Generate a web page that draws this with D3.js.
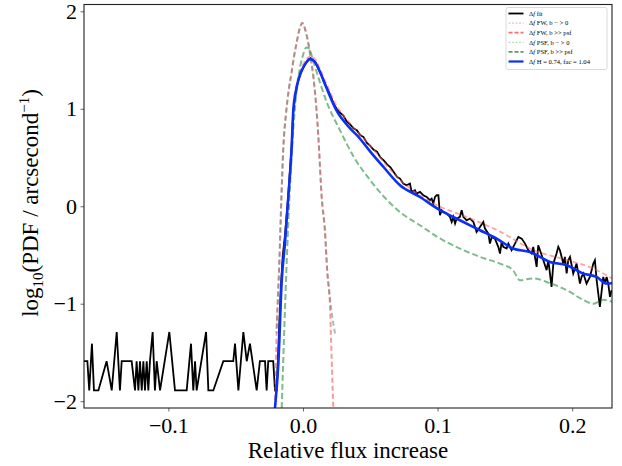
<!DOCTYPE html>
<html><head><meta charset="utf-8">
<script src="https://cdn.jsdelivr.net/npm/d3@7"></script>
<style>body{margin:0;background:#fff}</style>
</head><body><svg id="c" width="622" height="466"></svg>
<script>
// ---------- data ----------
const xTicks = [-0.1, 0.0, 0.1, 0.2];
const yTicks = [-2, -1, 0, 1, 2];
const legendLabels = ["fit", "FW, b − > 0", "FW, b >> psf", "PSF, b − > 0", "PSF, b >> psf", "H = 0.74, fac = 1.04"];

// histogram of the measured Δf (black)
const fitData = [
[-0.1627,-1.59],[-0.1602,-1.59],[-0.1588,-1.89],[-0.1568,-1.41],[-0.1553,-1.89],[-0.152,-1.89],[-0.1459,-1.59],[-0.1421,-1.89],
[-0.1384,-1.29],[-0.136,-1.89],[-0.1347,-1.59],[-0.1273,-1.59],[-0.1248,-1.89],[-0.1236,-1.59],[-0.1223,-1.89],[-0.1211,-1.59],
[-0.1198,-1.89],[-0.1186,-1.59],[-0.1174,-1.89],[-0.1161,-1.59],[-0.1149,-1.89],[-0.1137,-1.59],[-0.1117,-1.29],[-0.11,-1.89],
[-0.1087,-1.59],[-0.1062,-1.89],[-0.0993,-1.29],[-0.0951,-1.89],[-0.0864,-1.89],[-0.0832,-1.41],[-0.0815,-1.89],[-0.0802,-1.59],
[-0.079,-1.89],[-0.072,-1.29],[-0.0703,-1.89],[-0.0666,-1.89],[-0.0592,-1.59],[-0.0518,-1.59],[-0.0505,-1.41],[-0.048,-1.89],
[-0.0443,-1.29],[-0.0418,-1.59],[-0.0394,-1.41],[-0.0344,-1.89],[-0.032,-1.59],[-0.0282,-1.59],[-0.027,-1.89],[-0.0258,-1.59],
[-0.0221,-1.59],[-0.0208,-1.89],[-0.0195,-1.89],[-0.018,-1.35],[-0.0165,-0.85],[-0.015,-0.5],[-0.0134,-0.3],[-0.0109,0.12],
[-0.0084,0.62],[-0.0072,0.98],[-0.0047,1.23],[-0.002,1.36],[0.001,1.44],[0.0035,1.5],[0.0055,1.52],[0.0075,1.5],[0.0095,1.47],
[0.0115,1.41],[0.0135,1.35],[0.0155,1.28],[0.0176,1.22],[0.02,1.15],[0.0225,1.06],[0.025,1.0],[0.0275,0.96],[0.03,0.93],
[0.0325,0.87],[0.035,0.84],[0.0375,0.80],[0.04,0.78],[0.0425,0.73],[0.045,0.71],[0.0475,0.65],[0.05,0.62],[0.0525,0.58],
[0.055,0.56],[0.0575,0.50],[0.06,0.47],[0.0625,0.43],[0.065,0.40],[0.0675,0.35],[0.07,0.30],
[0.0721,0.284],[0.0745,0.233],[0.077,0.215],[0.0795,0.233],[0.0807,0.147],[0.0832,0.164],[0.0844,0.130],[0.0869,0.147],
[0.0894,0.113],[0.0919,0.096],[0.0943,0.062],[0.0956,0.079],[0.0968,0.027],[0.0981,0.096],[0.0993,0.113],[0.1006,0.113],
[0.1018,-0.092],[0.103,-0.041],[0.1043,-0.058],[0.1068,-0.075],[0.1092,-0.109],[0.1105,-0.161],[0.1117,-0.109],[0.113,-0.178],
[0.1142,-0.126],[0.1166,-0.109],[0.1179,-0.041],[0.1191,-0.109],[0.1204,-0.126],[0.1216,-0.144],[0.1241,-0.126],[0.1266,-0.161],
[0.129,-0.263],[0.1315,-0.212],[0.134,-0.161],[0.1352,-0.229],[0.1377,-0.280],[0.1389,-0.383],[0.1402,-0.315],[0.1426,-0.332],
[0.1451,-0.417],[0.1464,-0.485],[0.1476,-0.366],[0.1488,-0.417],[0.1513,-0.434],[0.1526,-0.383],[0.155,-0.451],[0.1575,-0.383],
[0.16,-0.315],[0.1625,-0.332],[0.165,-0.383],[0.1674,-0.451],[0.1699,-0.485],[0.1711,-0.417],[0.1736,-0.622],[0.1748,-0.400],
[0.1761,-0.451],[0.1786,-0.554],[0.181,-0.656],[0.1823,-0.554],[0.1847,-0.827],[0.186,-0.588],[0.1884,-0.485],[0.1897,-0.417],
[0.1909,-0.451],[0.1934,-0.588],[0.1946,-0.520],[0.1959,-0.690],[0.1971,-0.554],[0.1984,-0.520],[0.2008,-0.690],[0.2033,-0.588],
[0.2058,-0.793],[0.207,-0.725],[0.2083,-0.690],[0.2107,-0.793],[0.2132,-0.725],[0.2157,-0.588],[0.2169,-0.554],[0.2182,-0.759],
[0.2206,-1.033],[0.2231,-0.725],[0.2244,-0.793],[0.2256,-0.725],[0.2268,-0.793],[0.2281,-0.930],[0.2293,-0.862]
];

// FW model, b -> 0 (narrow peak)
const fwNarrow = [
[-0.0208,-2.07],[-0.0195,-1.27],[-0.0176,-0.59],[-0.016,0.1],[-0.0146,0.6],[-0.0126,0.95],[-0.0105,1.2],[-0.0084,1.38],
[-0.0065,1.55],[-0.0047,1.68],[-0.0025,1.82],[-0.0005,1.88],[0.0015,1.82],[0.004,1.67],[0.006,1.5],[0.0077,1.33],
[0.0101,0.98],[0.0114,0.72],[0.0139,0.095],[0.0163,-0.25],[0.018,-0.66],[0.02,-1.0],[0.0207,-1.3],[0.0225,-2.07]
];
// FW model, b >> psf
const fwTail = [
[-0.0208,-2.07],[-0.0183,-1.6],[-0.0158,-0.74],[-0.0134,-0.35],[-0.0109,0.12],[-0.0084,0.64],[-0.0072,1.0],[-0.0047,1.25],
[-0.001,1.42],[0.0027,1.51],[0.0052,1.54],[0.0089,1.51],[0.0126,1.41],[0.0176,1.25],[0.025,1.03],[0.035,0.85],[0.05,0.62],
[0.0721,0.27],[0.0968,0.03],[0.1216,-0.11],[0.1464,-0.26],[0.1711,-0.45],[0.1959,-0.55],[0.2157,-0.64],[0.2296,-0.74]
];
// PSF model, b -> 0 (narrow peak)
const psfNarrow = [
[-0.0197,-1.3],[-0.0176,-0.59],[-0.016,0.1],[-0.0146,0.6],[-0.0126,0.95],[-0.0105,1.2],[-0.0084,1.38],
[-0.0065,1.55],[-0.0047,1.68],[-0.0025,1.82],[-0.0005,1.88],[0.0015,1.82],[0.004,1.67],[0.006,1.5],[0.0077,1.33],
[0.0101,0.98],[0.0114,0.72],[0.0139,0.095],[0.0163,-0.25],[0.018,-0.66],[0.0205,-1.0],[0.0225,-1.2],[0.024,-1.32]
];
// PSF model, b >> psf
const psfTail = [
[-0.0158,-2.07],[-0.0135,-1.1],[-0.011,-0.2],[-0.0085,0.5],[-0.006,1.0],[-0.003,1.36],[0.0,1.55],[0.0025,1.63],[0.0045,1.62],
[0.007,1.52],[0.0101,1.38],[0.0176,1.07],[0.0275,0.78],[0.038,0.5],[0.0498,0.27],[0.06,0.1],[0.0721,-0.06],[0.0869,-0.195],
[0.1018,-0.33],[0.1166,-0.434],[0.1315,-0.52],[0.1463,-0.588],[0.156,-0.656],[0.1612,-0.76],[0.1709,-0.74],[0.1835,-0.79],
[0.1959,-0.86],[0.2082,-0.96],[0.2157,-1.0],[0.2231,-0.96],[0.2296,-0.98]
];
// best fit H = 0.74, fac = 1.04 (blue)
const bestFit = [
[-0.0208,-2.07],[-0.0183,-1.61],[-0.0158,-0.76],[-0.0134,-0.38],[-0.0109,0.095],[-0.0084,0.61],[-0.0072,0.98],[-0.0047,1.22],
[-0.001,1.39],[0.0027,1.48],[0.0052,1.51],[0.0089,1.48],[0.0126,1.38],[0.0176,1.21],[0.025,0.98],[0.035,0.80],[0.042,0.70],
[0.05,0.56],[0.06,0.40],[0.0721,0.215],[0.0869,0.095],[0.1018,-0.041],[0.1166,-0.144],[0.1315,-0.246],[0.1439,-0.331],
[0.156,-0.434],[0.1686,-0.469],[0.1835,-0.571],[0.1959,-0.605],[0.2082,-0.69],[0.2182,-0.725],[0.2256,-0.793],[0.2296,-0.79]
];

// ---------- drawing ----------
const svg = d3.select("#c");
const L = 84, R = 612, T = 4.5, B = 408;
const x = d3.scaleLinear().domain([-0.1627, 0.2296]).range([L, R]);
const y = d3.scaleLinear().domain([-2.07, 2.07]).range([B, T]);
const font = "'Liberation Serif', 'DejaVu Serif', serif";
const minus = s => s.replace("-", "\u2212");

svg.append("clipPath").attr("id", "clip").append("rect")
  .attr("x", L).attr("y", T).attr("width", R - L).attr("height", B - T);

const plot = svg.append("g").attr("clip-path", "url(#clip)");
const lineStraight = d3.line().x(d => x(d[0])).y(d => y(d[1]));
const lineSmooth = d3.line().x(d => x(d[0])).y(d => y(d[1])).curve(d3.curveMonotoneX);

plot.append("path").datum(fitData).attr("d", lineStraight)
  .attr("fill", "none").attr("stroke", "#000").attr("stroke-width", 1.8).attr("stroke-linejoin", "miter");

plot.append("path").datum(fwNarrow).attr("d", lineSmooth)
  .attr("fill", "none").attr("stroke", "rgba(235,90,90,0.6)").attr("stroke-width", 2)
  .attr("stroke-dasharray", "5,3");
plot.append("path").datum(psfNarrow).attr("d", lineSmooth)
  .attr("fill", "none").attr("stroke", "rgba(110,130,120,0.55)").attr("stroke-width", 2)
  .attr("stroke-dasharray", "5,3").attr("stroke-dashoffset", 4);
plot.append("path").datum(fwTail).attr("d", lineSmooth)
  .attr("fill", "none").attr("stroke", "rgba(255,90,90,0.55)").attr("stroke-width", 1.8)
  .attr("stroke-dasharray", "5,3");
plot.append("path").datum(psfTail).attr("d", lineSmooth)
  .attr("fill", "none").attr("stroke", "rgba(60,150,80,0.65)").attr("stroke-width", 2)
  .attr("stroke-dasharray", "6,3");
plot.append("path").datum(bestFit).attr("d", lineSmooth)
  .attr("fill", "none").attr("stroke", "#0b2ff5").attr("stroke-width", 2.6);

// axes
const xAxis = svg.append("g").attr("transform", `translate(0,${B})`)
  .call(d3.axisBottom(x).tickValues(xTicks).tickSize(3.5).tickSizeOuter(0)
    .tickFormat(d => minus(d3.format(".1f")(d))));
const yAxis = svg.append("g").attr("transform", `translate(${L},0)`)
  .call(d3.axisLeft(y).tickValues(yTicks).tickSize(3.5).tickSizeOuter(0)
    .tickFormat(d => minus(String(d))));
[xAxis, yAxis].forEach(g => {
  g.select(".domain").remove();
  g.selectAll(".tick line").attr("stroke", "#444").attr("stroke-width", 0.8);
  g.selectAll("text").attr("font-family", font).attr("font-size", 22).attr("fill", "#000");
});
xAxis.selectAll("text").attr("dy", null).attr("y", 25);
yAxis.selectAll("text").attr("x", -7);

svg.append("rect").attr("x", L).attr("y", T).attr("width", R - L).attr("height", B - T)
  .attr("fill", "none").attr("stroke", "#222").attr("stroke-width", 1.1);

// axis labels
svg.append("text").attr("x", 348).attr("y", 458).attr("text-anchor", "middle")
  .attr("font-family", font).attr("font-size", 23).text("Relative flux increase");

const yl = svg.append("text").attr("transform", "translate(38,203) rotate(-90)")
  .attr("text-anchor", "middle").attr("font-family", font).attr("font-size", 23);
yl.append("tspan").text("log");
yl.append("tspan").attr("font-size", 15).attr("dy", 5).text("10");
yl.append("tspan").attr("dy", -5).text("(PDF / arcsecond");
yl.append("tspan").attr("font-size", 15).attr("dy", -9).text("\u22121");
yl.append("tspan").attr("dy", 9).text(")");

// legend
const legStyles = [
  {c: "#000", w: 1.8, d: null},
  {c: "#ffa8a8", w: 1, d: "2,1.5"},
  {c: "#ff6a6a", w: 1.8, d: "4,2"},
  {c: "#a8d8a8", w: 1, d: "2,1.5"},
  {c: "#55a060", w: 1.8, d: "4,2"},
  {c: "#0b2ff5", w: 2.2, d: null}
];
const lg = svg.append("g");
lg.append("rect").attr("x", 506).attr("y", 7.5).attr("width", 101).attr("height", 62).attr("rx", 2)
  .attr("fill", "#fff").attr("stroke", "#d0d0d0").attr("stroke-width", 0.8);
legendLabels.forEach((lab, i) => {
  const yy = 13.5 + i * 9.6;
  const s = legStyles[i];
  lg.append("line").attr("x1", 508.5).attr("x2", 523.5).attr("y1", yy).attr("y2", yy)
    .attr("stroke", s.c).attr("stroke-width", s.w).attr("stroke-dasharray", s.d);
  const t = lg.append("text").attr("x", 529).attr("y", yy + 2.2)
    .attr("font-family", font).attr("font-size", 6.6).attr("fill", "#000");
  t.append("tspan").text("\u0394");
  t.append("tspan").attr("font-style", "italic").text("f");
  t.append("tspan").text(" " + lab);
});
</script>
</body></html>
